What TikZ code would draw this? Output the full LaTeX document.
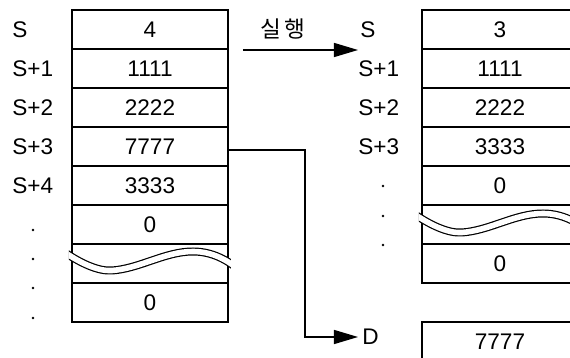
\documentclass[tikz,border=0pt]{standalone}
\usepackage{fontspec}
\setmainfont{Liberation Sans}
\newfontfamily\kor{Noto Sans CJK KR}
\usetikzlibrary{arrows.meta}
\tikzset{cell/.style={draw,line width=1pt,minimum width=78pt,minimum height=19.5pt,inner sep=0pt,outer sep=0pt},
  lab/.style={anchor=west,inner sep=0pt},
  arr/.style={line width=.65pt,-{Triangle[length=12pt,width=7pt]}},
  brk/.style={line width=.6pt,double,double distance=2.8pt}}

\begin{document}
\begin{tikzpicture}[x=.5pt,y=-.5pt,font=\fontsize{11.3}{13}\selectfont]
\useasboundingbox (0,0) rectangle (570,358);
% before
\node[cell] (s0) at (150,29.5) {4};\node[cell] (s1) at (150,68.5) {1111};
\node[cell] (s2) at (150,107.5) {2222};\node[cell] (s3) at (150,146.5) {7777};
\node[cell] (s4) at (150,185.5) {3333};\node[cell] (s5) at (150,224.5) {0};
\node[cell] (s6) at (150,263.5) {};\node[cell] (s7) at (150,302.5) {0};
\begin{scope}[shift={(72,244)}]
\clip (-3,0) rectangle (159,39);
\draw[brk] (-10,6.5) .. controls (8,19) and (26,27.5) .. (40,26.5) .. controls (68,24.5) and (93,7.5) .. (121,7.5) .. controls (140,7.5) and (155,16) .. (166,25);
\end{scope}
\node[lab] (ls0) at (12,29.5) {S};\node[lab] (ls1) at (12,68.5) {S+1};
\node[lab] (ls2) at (12,107.5) {S+2};\node[lab] (ls3) at (12,146.5) {S+3};
\node[lab] (ls4) at (12,185.5) {S+4};
\fill (33,230) circle (1.3);\fill (33,259) circle (1.3);\fill (33,288) circle (1.3);\fill (33,318) circle (1.3);
% after
\node[cell] (r0) at (500,29.5) {3};\node[cell] (r1) at (500,68.5) {1111};
\node[cell] (r2) at (500,107.5) {2222};\node[cell] (r3) at (500,146.5) {3333};
\node[cell] (r4) at (500,185.5) {0};\node[cell] (r5) at (500,224.5) {};
\node[cell] (r6) at (500,263.5) {0};
\begin{scope}[shift={(422,206)}]
\clip (-3,0) rectangle (159,39);
\draw[brk] (-10,6.5) .. controls (8,19) and (26,27.5) .. (40,26.5) .. controls (68,24.5) and (93,7.5) .. (121,7.5) .. controls (140,7.5) and (155,16) .. (166,25);
\end{scope}
\node[lab] (rs0) at (360,29.5) {S};\node[lab] (rs1) at (358,68.5) {S+1};
\node[lab] (rs2) at (358,107.5) {S+2};\node[lab] (rs3) at (358,146.5) {S+3};
\fill (383,186) circle (1.3);\fill (383,216) circle (1.3);\fill (383,245) circle (1.3);
\node[cell] (d) at (500,341.5) {7777};
% arrows
\coordinate (a0) at (243,50);\coordinate (a1) at (358,50);
\draw[arr] (a0)--(a1);
\node (run) at (283,29) {\kor 실\,행};
\node[lab,inner sep=2pt] (dl) at (358,337) {D};
\draw[arr] ([yshift=-1.75pt]s3.east)--(305,150) |- (dl.west);
\end{tikzpicture}
\end{document}
